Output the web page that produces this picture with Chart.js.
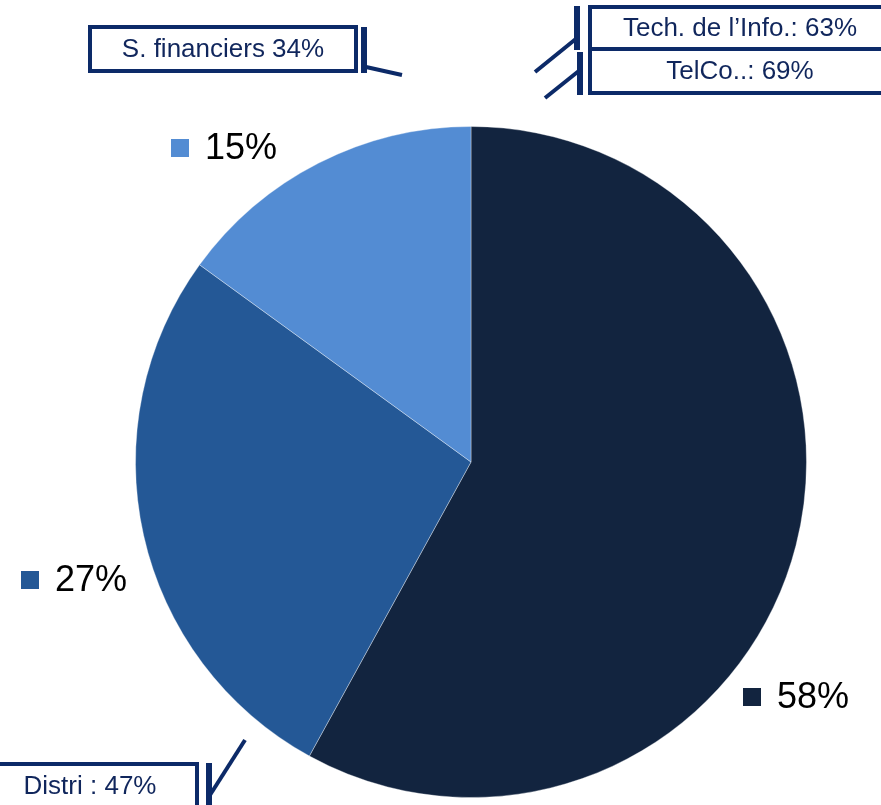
<!DOCTYPE html>
<html>
<head>
    <title>Sector pie</title>
    <style>
        body { margin: 0; padding: 0; background: #fff; }
        #chartContainer { width: 881px; height: 805px; position: relative; }
    </style>
    <script src="https://cdn.jsdelivr.net/npm/chart.js"></script>
</head>
<body>

    <div id="chartContainer">
        <canvas id="myPieChart"></canvas>
    </div>

    <script>
        // slice values, clockwise from 12 o'clock
        const values = [58, 27, 15];
        const sliceColors = ['#12243f', '#245896', '#538cd3'];
        const sliceLabels = values.map(v => v + '%');

        // boxed call-outs around the pie
        const calloutTexts = ['S. financiers 34%', 'Tech. de l\u2019Info.: 63%', 'TelCo..: 69%', 'Distri : 47%'];

        const navy = '#0c2a68';
        const navyText = '#10265c';

        // where each percentage label sits, relative to the pie centre
        const labelOffsets = [[272, 235], [-450, 118], [-300, -314]];

        const calloutPlugin = {
            id: 'callouts',
            afterDraw(chart) {
                const ctx = chart.ctx;
                const arc = chart.getDatasetMeta(0).data[0];
                const cx = arc.x, cy = arc.y;

                // percentage labels with coloured squares
                ctx.save();
                ctx.font = '36px "Liberation Sans", Arial, sans-serif';
                ctx.textBaseline = 'middle';
                ctx.textAlign = 'left';
                sliceLabels.forEach((txt, i) => {
                    const x = cx + labelOffsets[i][0];
                    const y = cy + labelOffsets[i][1];
                    ctx.fillStyle = sliceColors[i];
                    ctx.fillRect(x, y - 9, 18, 18);
                    ctx.fillStyle = '#000';
                    ctx.fillText(txt, x + 34, y + 1);
                });
                ctx.restore();

                // boxes
                const boxes = [
                    { x: 90, y: 27, w: 266, h: 44, text: calloutTexts[0] },
                    { x: 590, y: 7, w: 300, h: 42, text: calloutTexts[1], tx: 740 },
                    { x: 590, y: 49, w: 300, h: 44, text: calloutTexts[2], tx: 740 },
                    { x: -10, y: 764, w: 207, h: 60, text: calloutTexts[3], tx: 90, ty: 787 }
                ];
                ctx.save();
                ctx.strokeStyle = navy;
                ctx.lineWidth = 4;
                boxes.forEach(b => {
                    ctx.fillStyle = '#fff';
                    ctx.fillRect(b.x, b.y, b.w, b.h);
                    ctx.strokeRect(b.x, b.y, b.w, b.h);
                    ctx.fillStyle = navyText;
                    ctx.font = '26px "Liberation Sans", Arial, sans-serif';
                    ctx.textAlign = 'center';
                    ctx.textBaseline = 'middle';
                    ctx.fillText(b.text, b.tx !== undefined ? b.tx : b.x + b.w / 2, b.ty !== undefined ? b.ty : b.y + b.h / 2 + 1);
                });

                // leader lines: vertical bar + diagonal
                const leaders = [
                    { bx: 364, y1: 27, y2: 73, from: [366, 67], to: [402, 75] },
                    { bx: 577, y1: 6, y2: 50, from: [577, 38], to: [535, 72] },
                    { bx: 580, y1: 52, y2: 95, from: [580, 70], to: [545, 98] },
                    { bx: 209, y1: 763, y2: 805, from: [210, 795], to: [245, 740] }
                ];
                leaders.forEach(l => {
                    ctx.lineWidth = 6;
                    ctx.beginPath();
                    ctx.moveTo(l.bx, l.y1);
                    ctx.lineTo(l.bx, l.y2);
                    ctx.stroke();
                    ctx.lineWidth = 4;
                    ctx.beginPath();
                    ctx.moveTo(l.from[0], l.from[1]);
                    ctx.lineTo(l.to[0], l.to[1]);
                    ctx.stroke();
                });
                ctx.restore();
            }
        };

        const ctx = document.getElementById('myPieChart').getContext('2d');
        new Chart(ctx, {
            type: 'pie',
            data: {
                labels: sliceLabels,
                datasets: [{
                    data: values,
                    backgroundColor: sliceColors,
                    borderColor: 'rgba(255,255,255,0.35)',
                    borderWidth: 1
                }]
            },
            options: {
                responsive: true,
                maintainAspectRatio: false,
                animation: false,
                layout: {
                    padding: { top: 126, bottom: 7, left: 135, right: 74 }
                },
                plugins: {
                    legend: { display: false },
                    tooltip: { enabled: false }
                }
            },
            plugins: [calloutPlugin]
        });
    </script>

</body>
</html>
